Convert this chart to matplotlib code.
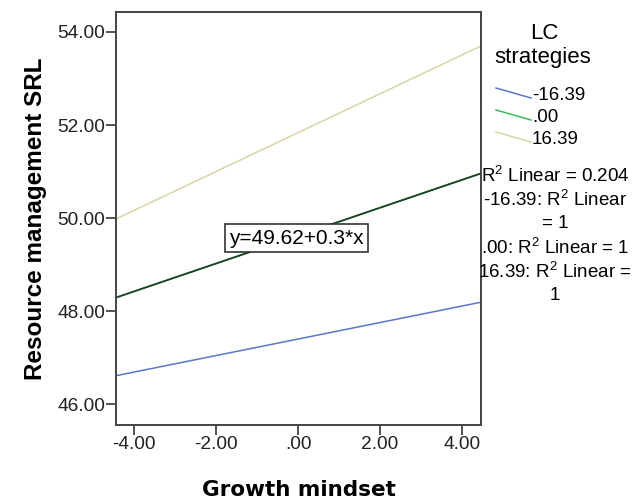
import matplotlib
matplotlib.use("Agg")
import matplotlib.pyplot as plt
from matplotlib.lines import Line2D

# Data
x_ends = [-4.44, 4.46]
groups = ["-16.39", ".00", "16.39"]
y_low = [46.61, 48.29, 49.98]    # fitted values at left end
y_high = [48.19, 50.96, 53.70]   # fitted values at right end
total_ends = [48.29, 50.96]
colors = ["#5b77c9", "#3cbf55", "#d9d5a6"]
xticks = [-4, -2, 0, 2, 4]
xtick_labels = ["-4.00", "-2.00", ".00", "2.00", "4.00"]
yticks = [46, 48, 50, 52, 54]
ytick_labels = ["46.00", "48.00", "50.00", "52.00", "54.00"]
r2_lines = ["R$^2$ Linear = 0.204", "-16.39: R$^2$ Linear", "= 1",
            ".00: R$^2$ Linear = 1", "16.39: R$^2$ Linear =", "1"]

plt.rcParams['font.family'] = ['Liberation Sans', 'DejaVu Sans']
plt.rcParams['mathtext.fontset'] = 'custom'
plt.rcParams['mathtext.rm'] = 'Liberation Sans'
W, H = 634, 503
fig = plt.figure(figsize=(W/100, H/100), dpi=100)
ax = fig.add_axes([116/W, 1-425/H, (481-116)/W, (425-12)/H])

for yl, yh, c in zip(y_low, y_high, colors):
    ax.plot(x_ends, [yl, yh], color=c, lw=1.1)
ax.plot(x_ends, total_ends, color="#1d4326", lw=1.3)

ax.set_xlim(-4.44, 4.46)
ax.set_ylim(45.55, 54.43)
ax.set_xticks(xticks)
ax.set_xticklabels(xtick_labels)
ax.set_yticks(yticks)
ax.set_yticklabels(ytick_labels)
ax.tick_params(direction='out', length=7, width=1.3, color="#444444",
               labelsize=13.8, labelcolor="#222222", pad=1)
for s in ax.spines.values():
    s.set_color("#444444")
    s.set_linewidth(1.4)

ax.set_xlabel("Growth mindset", fontsize=15.5, fontweight='bold',
              family='DejaVu Sans', labelpad=19)
ax.set_ylabel("Resource management SRL", fontsize=17.5, fontweight='bold', labelpad=7)

ax.text(-0.05, 49.57, "y=49.62+0.3*x", fontsize=15, ha='center', va='center',
        bbox=dict(boxstyle='square,pad=0.2', fc='white', ec='#333333', lw=1.2))

# Legend
fig.text(544/W, 1-33/H, "LC", ha='center', va='center', fontsize=16)
fig.text(543/W, 1-58/H, "strategies", ha='center', va='center', fontsize=16)
for i, (g, c) in enumerate(zip(groups, colors)):
    yc = 95 + i*22
    fig.add_artist(Line2D([496/W, 531/W], [1-(yc-7)/H, 1-(yc+3)/H], color=c, lw=1.1))
    fig.text(532/W, 1-yc/H, g, ha='left', va='center', fontsize=13.5)

for i, t in enumerate(r2_lines):
    fig.text(555/W, 1-(176 + i*24)/H, t, ha='center', va='center', fontsize=13.5)

fig.savefig("out.png", dpi=100)
